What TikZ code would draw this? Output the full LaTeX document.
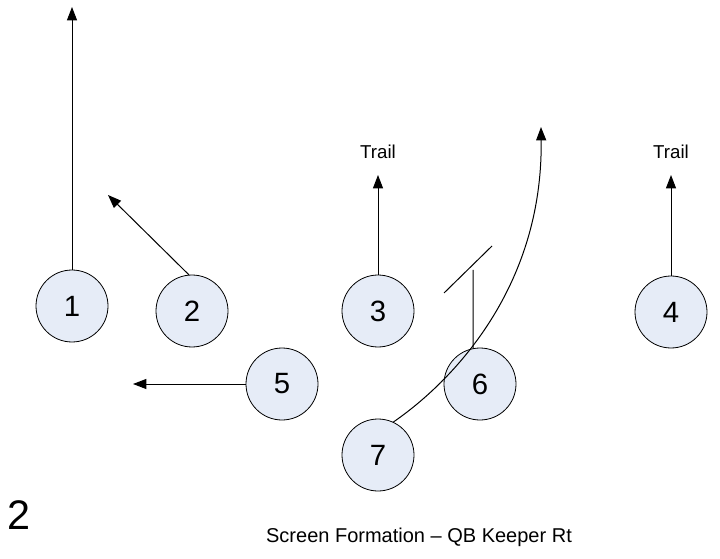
\documentclass[tikz,border=0pt]{standalone}
\usepackage{fontspec}
\setmainfont{Liberation Sans}
\usetikzlibrary{arrows.meta}
\definecolor{playerfill}{RGB}{230,236,247}
\begin{document}
\begin{tikzpicture}[x=0.75pt,y=-0.75pt,
  player/.style={circle,draw=black,line width=0.6pt,fill=playerfill,minimum size=54pt,inner sep=0pt,font=\fontsize{22}{24}\selectfont},
  route/.style={draw=black,line width=0.75pt,-{Triangle[length=10pt,width=7.5pt]}},
  block/.style={draw=black,line width=0.75pt},
  lbl/.style={font=\fontsize{14}{16}\selectfont}]
\useasboundingbox (0,0) rectangle (720,559);
\node[player] (n1) at (72,306) {1};
\node[player] (n2) at (192,311) {2};
\node[player] (n3) at (378,311) {3};
\node[player] (n4) at (671,312) {4};
\node[player] (n5) at (282,384) {5};
\node[player] (n6) at (480,384) {6};
\node[player] (n7) at (378,455) {7};
\coordinate (e1) at (72,7);
\coordinate (e2) at (108,195);
\coordinate (e3) at (378,175);
\coordinate (e4) at (671,175);
\coordinate (e5) at (133,384);
\coordinate (e6) at (473,270);
\coordinate (b1) at (444,293);
\coordinate (b2) at (492,246);
\coordinate (e7) at (541,127);
\node[lbl] (t3) at (378,152) {Trail};
\node[lbl] (t4) at (671,152) {Trail};
\draw[route] (n1.north) -- (e1);
\draw[route] (n2.95) -- (e2);
\draw[route] (n3.north) -- (e3);
\draw[route] (n4.north) -- (e4);
\draw[route] (n5.west) -- (e5);
\draw[block] (n6.101) -- (e6);
\draw[block] (b1) -- (b2);
\draw[route] (n7.65) .. controls (450,383) and (543,290) .. (e7);
\node[font=\fontsize{31}{34}\selectfont,anchor=west] (num) at (3,515) {2};
\node[font=\fontsize{15}{17}\selectfont] (title) at (419,537) {Screen Formation – QB Keeper Rt};
\end{tikzpicture}
\end{document}
